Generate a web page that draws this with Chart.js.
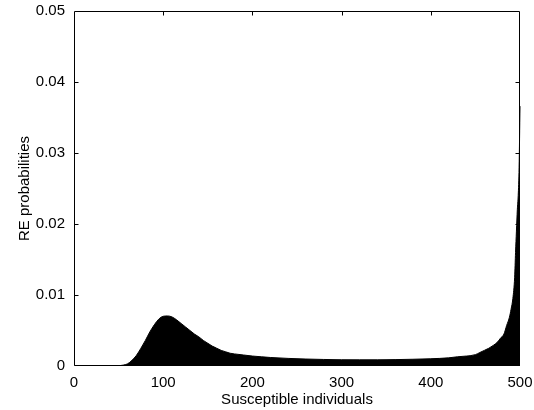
<!DOCTYPE html>
<html>
<head>
<meta charset="utf-8">
<script src="https://cdn.jsdelivr.net/npm/chart.js@4/dist/chart.umd.min.js"></script>
<style>
html,body{margin:0;padding:0;background:#fff;}
#wrap{width:534px;height:410px;position:relative;}
</style>
</head>
<body>
<div id="wrap"><canvas id="c" width="534" height="410"></canvas></div>
<script>
// Susceptible individuals (x) and RE probabilities (y)
const susceptible = [0, 45, 50, 55, 60, 65, 70, 75, 80, 85, 90, 95, 100, 105, 110, 115, 120, 125, 130, 135, 140, 145, 150, 155, 160, 165, 170, 175, 180, 190, 200, 210, 220, 240, 260, 280, 300, 320, 340, 360, 380, 400, 420, 430, 440, 450, 455, 460, 465, 470, 475, 478, 482, 485, 488, 490, 492, 494, 495, 496, 497, 498, 499, 500];
const reProb = [0, 0, 0.00003, 0.00012, 0.0003, 0.0008, 0.0015, 0.0025, 0.0036, 0.0048, 0.0058, 0.0066, 0.0070, 0.00705, 0.0069, 0.0065, 0.0060, 0.0055, 0.0050, 0.0045, 0.0041, 0.0036, 0.0032, 0.0028, 0.0025, 0.0022, 0.0020, 0.0018, 0.0017, 0.00155, 0.0014, 0.0013, 0.0012, 0.00107, 0.00098, 0.00092, 0.00088, 0.00087, 0.00087, 0.0009, 0.00095, 0.00102, 0.00115, 0.0013, 0.0014, 0.0016, 0.0019, 0.0022, 0.0025, 0.0029, 0.0034, 0.0039, 0.0045, 0.0057, 0.0068, 0.0080, 0.0095, 0.0125, 0.016, 0.019, 0.022, 0.024, 0.028, 0.0366];
const xTicks = [0, 100, 200, 300, 400, 500];
const yTicks = [0, 0.01, 0.02, 0.03, 0.04, 0.05];

const points = susceptible.map((x, i) => ({x: x, y: reProb[i]}));
const FONT = "'Liberation Sans', Arial, sans-serif";

const boxPlugin = {
  id: 'box',
  afterDraw(chart) {
    const ctx = chart.ctx, a = chart.chartArea;
    const xs = chart.scales.x, ys = chart.scales.y;
    ctx.save();
    ctx.strokeStyle = '#000';
    ctx.lineWidth = 1;
    const L = Math.round(a.left) + 0.5, R = Math.round(a.right) - 0.5;
    const T = Math.round(a.top) + 0.5, B = Math.round(a.bottom) - 0.5;
    ctx.beginPath();
    ctx.rect(L, T, R - L, B - T);
    ctx.stroke();
    const tl = 4;
    ctx.beginPath();
    xTicks.forEach(v => {
      if (v === 0 || v === 500) return;
      const px = Math.round(xs.getPixelForValue(v)) + 0.5;
      ctx.moveTo(px, T); ctx.lineTo(px, T + tl);
      ctx.moveTo(px, B); ctx.lineTo(px, B - tl);
    });
    yTicks.forEach(v => {
      if (v === 0 || v === 0.05) return;
      const py = Math.round(ys.getPixelForValue(v)) + 0.5;
      ctx.moveTo(L, py); ctx.lineTo(L + tl, py);
      ctx.moveTo(R, py); ctx.lineTo(R - tl, py);
    });
    ctx.stroke();
    ctx.restore();
  }
};

new Chart(document.getElementById('c'), {
  type: 'line',
  data: {
    datasets: [{
      data: points,
      borderColor: '#000',
      backgroundColor: '#000',
      borderWidth: 1,
      fill: 'origin',
      pointRadius: 0,
      clip: {left: 0, top: 0, right: 2, bottom: 0},
      cubicInterpolationMode: 'monotone'
    }]
  },
  options: {
    responsive: false,
    animation: false,
    events: [],
    layout: {padding: {left: 0, right: 14, top: 11, bottom: 0}},
    plugins: {legend: {display: false}, tooltip: {enabled: false}},
    scales: {
      x: {
        type: 'linear', min: 0, max: 500,
        afterBuildTicks(s) { s.ticks = xTicks.map(v => ({value: v})); },
        afterFit(s) { s.height = 44; s.paddingLeft = 0; s.paddingRight = 0; },
        grid: {display: false, drawTicks: false},
        border: {display: false},
        ticks: {color: '#000', font: {family: FONT, size: 15}, padding: 8, maxRotation: 0,
          callback: v => String(v)},
        title: {display: true, text: 'Susceptible individuals', color: '#000',
          font: {family: FONT, size: 15}, padding: {top: 0, bottom: 1}}
      },
      y: {
        min: 0, max: 0.05,
        afterBuildTicks(s) { s.ticks = yTicks.map(v => ({value: v})); },
        afterFit(s) { s.width = 74; s.paddingTop = 0; s.paddingBottom = 0; },
        grid: {display: false, drawTicks: false},
        border: {display: false},
        ticks: {color: '#000', font: {family: FONT, size: 15}, padding: 9,
          callback: v => v === 0 ? '0' : v.toFixed(2)},
        title: {display: true, text: 'RE probabilities', color: '#000',
          font: {family: FONT, size: 15}, padding: {top: 16, bottom: 0}}
      }
    }
  },
  plugins: [boxPlugin]
});
</script>
</body>
</html>
